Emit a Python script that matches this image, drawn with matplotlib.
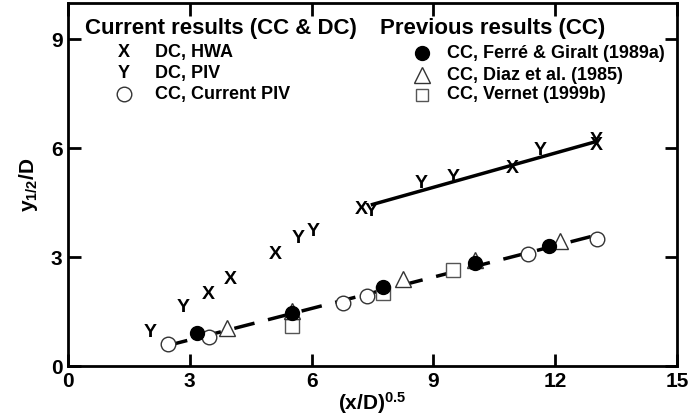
import matplotlib
matplotlib.use('Agg')
import matplotlib.pyplot as plt

plt.rcParams['font.family'] = ['Liberation Sans', 'DejaVu Sans']
plt.rcParams['font.weight'] = 'bold'
plt.rcParams['mathtext.fontset'] = 'custom'
plt.rcParams['mathtext.rm'] = 'Liberation Sans:bold'
plt.rcParams['mathtext.it'] = 'Liberation Sans:bold'
plt.rcParams['mathtext.bf'] = 'Liberation Sans:bold'

# DC, HWA (X)
hwa_x = [3.46, 3.99, 5.10, 7.22, 10.95, 13.02]
hwa_y = [1.96, 2.39, 3.06, 4.32, 5.44, 6.07]
# DC, PIV (Y)
dpiv_x = [2.02, 2.83, 5.67, 6.03, 7.48, 8.71, 9.49, 11.63, 13.0]
dpiv_y = [0.91, 1.62, 3.50, 3.70, 4.25, 5.03, 5.19, 5.95, 6.20]
# CC, current PIV (open circles)
cpiv_x = [2.47, 3.48, 6.78, 7.36, 11.34, 13.03]
cpiv_y = [0.60, 0.81, 1.73, 1.94, 3.08, 3.49]
# CC, Ferre & Giralt (filled circles)
fg_x = [3.17, 5.51, 7.77, 10.02, 11.85]
fg_y = [0.90, 1.45, 2.17, 2.83, 3.31]
# CC, Diaz et al. (triangles)
diaz_x = [3.91, 5.51, 8.26, 10.02, 12.12]
diaz_y = [1.04, 1.52, 2.40, 2.92, 3.45]
# CC, Vernet (squares)
vern_x = [5.51, 7.77, 9.49]
vern_y = [1.10, 2.00, 2.64]

# fitted lines
dc_fit_x = [7.5, 13.0]
dc_fit_y = [4.45, 6.18]
cc_fit_x = [2.44, 13.0]
cc_fit_y = [0.56, 3.60]

fig = plt.figure(figsize=(6.9, 4.18), dpi=100)
ax = fig.add_axes([0.0986, 0.1244, 0.8824, 0.8684])

ax.plot(dc_fit_x, dc_fit_y, color='black', lw=2.5)
ax.plot(cc_fit_x, cc_fit_y, color='black', lw=2.5, dashes=(6, 4))

ax.plot(vern_x, vern_y, 's', ms=10, mfc='white', mec='#555555', mew=1)
ax.plot(diaz_x, diaz_y, '^', ms=11, mfc='white', mec='#333333', mew=1)
ax.plot(cpiv_x, cpiv_y, 'o', ms=10.5, mfc='white', mec='#333333', mew=1)
ax.plot(fg_x, fg_y, 'o', ms=10, color='black')

for x, y in zip(hwa_x, hwa_y):
    ax.text(x, y, 'X', ha='center', va='center', fontsize=14, fontweight='bold')
for x, y in zip(dpiv_x, dpiv_y):
    ax.text(x, y, 'Y', ha='center', va='center', fontsize=14, fontweight='bold')

# legend blocks
tr = ax.transAxes
ax.text(0.028, 0.931, 'Current results (CC & DC)', transform=tr, fontsize=16,
        va='center', fontweight='bold')
left_lab = ['DC, HWA', 'DC, PIV', 'CC, Current PIV']
left_y = [0.865, 0.806, 0.749]
ax.text(0.092, left_y[0], 'X', transform=tr, fontsize=13, ha='center', va='center')
ax.text(0.092, left_y[1], 'Y', transform=tr, fontsize=13, ha='center', va='center')
ax.plot([0.092], [left_y[2]], 'o', transform=tr, ms=10.5, mfc='white', mec='#333333', mew=1)
for lab, yy in zip(left_lab, left_y):
    ax.text(0.143, yy, lab, transform=tr, fontsize=13, va='center')

ax.text(0.512, 0.931, 'Previous results (CC)', transform=tr, fontsize=16,
        va='center', fontweight='bold')
right_lab = ['CC, Ferré & Giralt (1989a)', 'CC, Diaz et al. (1985)', 'CC, Vernet (1999b)']
right_y = [0.862, 0.801, 0.747]
ax.plot([0.581], [right_y[0]], 'o', transform=tr, ms=10, color='black')
ax.plot([0.581], [right_y[1]], '^', transform=tr, ms=11, mfc='white', mec='#333333', mew=1)
ax.plot([0.581], [right_y[2]], 's', transform=tr, ms=9, mfc='white', mec='#555555', mew=1)
for lab, yy in zip(right_lab, right_y):
    ax.text(0.622, yy, lab, transform=tr, fontsize=13, va='center')

ax.set_xlim(0, 15)
ax.set_ylim(0, 10)
ax.set_xticks([0, 3, 6, 9, 12, 15])
ax.set_yticks([0, 3, 6, 9])
ax.tick_params(direction='in', length=9, width=2, top=True, right=True,
               labelsize=15, pad=4)
for lbl in ax.get_xticklabels() + ax.get_yticklabels():
    lbl.set_fontweight('bold')
for sp in ax.spines.values():
    sp.set_linewidth(2)

ax.set_xlabel('(x/D)$^{0.5}$', fontsize=15, fontweight='bold', labelpad=0)
ax.set_ylabel('y$_{1/2}$/D', fontsize=15, fontweight='bold', labelpad=8)

fig.savefig('out.png', dpi=100)
